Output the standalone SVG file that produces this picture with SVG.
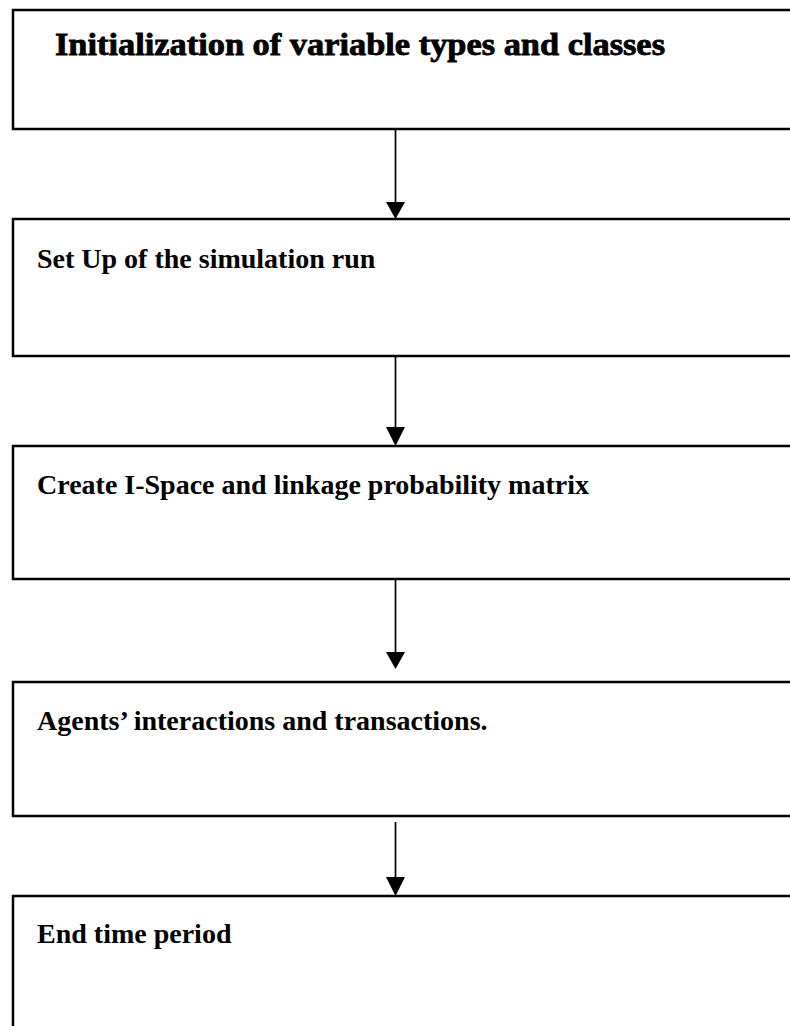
<svg xmlns="http://www.w3.org/2000/svg" width="790" height="1026" viewBox="0 0 790 1026">
<style>
.box{fill:#fff;stroke:#000;stroke-width:2.5}
.lbl{font-family:"Liberation Serif","Times New Roman",serif;font-weight:bold;font-size:28px;fill:#000}
.title{font-family:"Liberation Serif","Times New Roman",serif;font-weight:bold;font-size:32px;fill:#000;stroke:#000;stroke-width:0.8}
.conn line{stroke:#000;stroke-width:1.7}
.conn polygon{fill:#000}
</style>
<rect width="790" height="1026" fill="#fff"/>
<g id="node1"><rect class="box" x="13" y="10" width="800" height="119"/><text class="title" x="55" y="55" textLength="610" lengthAdjust="spacingAndGlyphs">Initialization of variable types and classes</text></g>
<g id="node2"><rect class="box" x="13" y="219" width="800" height="137"/><text class="lbl" x="37" y="268">Set Up of the simulation run</text></g>
<g id="node3"><rect class="box" x="13" y="446" width="800" height="133"/><text class="lbl" x="37" y="494">Create I-Space and linkage probability matrix</text></g>
<g id="node4"><rect class="box" x="13" y="682" width="800" height="134"/><text class="lbl" x="37" y="730">Agents’ interactions and transactions.</text></g>
<g id="node5"><rect class="box" x="13" y="896" width="800" height="160"/><text class="lbl" x="37" y="943">End time period</text></g>
<g id="connectors" class="conn">
<line x1="395.5" y1="129" x2="395.5" y2="204"/><polygon points="386,202 405,202 395.5,219"/>
<line x1="395.5" y1="356" x2="395.5" y2="430"/><polygon points="386,427 405,427 395.5,446"/>
<line x1="395.5" y1="579" x2="395.5" y2="654"/><polygon points="386,652 405,652 395.5,669"/>
<line x1="395.5" y1="822" x2="395.5" y2="880"/><polygon points="386,877 405,877 395.5,896"/>
</g>
</svg>
